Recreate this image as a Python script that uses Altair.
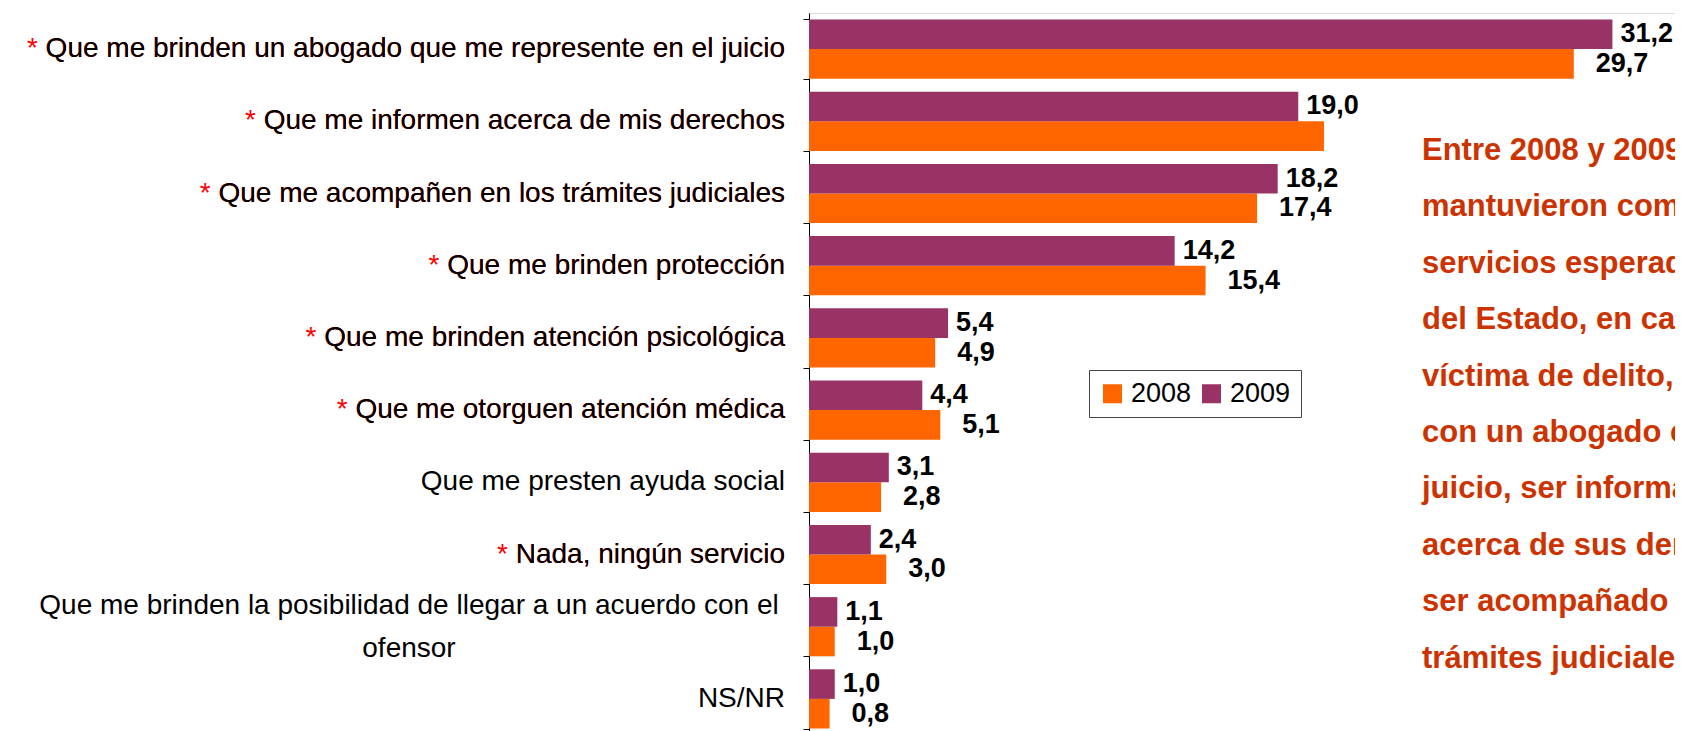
import altair as alt
import pandas as pd

categories = [
    "Que me brinden un abogado que me represente en el juicio",
    "Que me informen acerca de mis derechos",
    "Que me acompañen en los trámites judiciales",
    "Que me brinden protección",
    "Que me brinden atención psicológica",
    "Que me otorguen atención médica",
    "Que me presten ayuda social",
    "Nada, ningún servicio",
    "Que me brinden la posibilidad de llegar a un acuerdo con el ofensor",
    "NS/NR",
]
category_lines = [
    ["Que me brinden un abogado que me represente en el juicio"],
    ["Que me informen acerca de mis derechos"],
    ["Que me acompañen en los trámites judiciales"],
    ["Que me brinden protección"],
    ["Que me brinden atención psicológica"],
    ["Que me otorguen atención médica"],
    ["Que me presten ayuda social"],
    ["Nada, ningún servicio"],
    ["Que me brinden la posibilidad de llegar a un acuerdo con el", "ofensor"],
    ["NS/NR"],
]
starred = [True, True, True, True, True, True, False, True, False, False]
v2008 = [29.7, 20.0, 17.4, 15.4, 4.9, 5.1, 2.8, 3.0, 1.0, 0.8]
v2009 = [31.2, 19.0, 18.2, 14.2, 5.4, 4.4, 3.1, 2.4, 1.1, 1.0]
years = ["2008", "2009"]
hidden_labels = [("Que me informen acerca de mis derechos", "2008")]

box_lines = [
    "Entre 2008 y 2009 se",
    "mantuvieron como los",
    "servicios esperados",
    "del Estado, en caso de ser",
    "víctima de delito, el contar",
    "con un abogado en el",
    "juicio, ser informado",
    "acerca de sus derechos y",
    "ser acompañado en los",
    "trámites judiciales.",
]

rows = []
for i, c in enumerate(categories):
    for y, vals in (("2008", v2008), ("2009", v2009)):
        rows.append({
            "category": c,
            "year": y,
            "value": vals[i],
            "label": f"{vals[i]:.1f}".replace(".", ","),
            "show": (c, y) not in hidden_labels,
        })
df = pd.DataFrame(rows)

cat_df = pd.DataFrame({
    "category": categories,
    "lines": category_lines,
    "star": starred,
    "multi": [len(l) > 1 for l in category_lines],
    "starred_text": ["*  " + c for c in categories],
})

FONT = "Liberation Sans"
W, H = 866, 722
LABEL_SIZE = 28

yscale = alt.Scale(domain=categories, paddingInner=0.18, paddingOuter=0.09)
yenc = alt.Y("category:N", sort=categories, scale=yscale,
             axis=alt.Axis(labels=False, title=None, domainColor="#000",
                           tickColor="#000", tickSize=6, tickBand="extent",
                           grid=False, domainWidth=1, tickWidth=1))
xenc = alt.X("value:Q", scale=alt.Scale(domain=[0, 33.63], nice=False, zero=True), axis=None)
yoff = alt.YOffset("year:N", sort=["2009", "2008"])

bars = alt.Chart(df).mark_bar().encode(
    x=xenc,
    y=yenc,
    yOffset=yoff,
    color=alt.Color("year:N",
                    scale=alt.Scale(domain=years, range=["#FF6600", "#993366"]),
                    legend=alt.Legend(title=None, orient="none", legendX=280, legendY=357,
                                      direction="horizontal", symbolType="square",
                                      symbolSize=361, symbolStrokeWidth=0,
                                      symbolOpacity=1,
                                      labelFontSize=27, labelFont=FONT, labelColor="black",
                                      strokeColor="#444", fillColor="white",
                                      padding=10, columnPadding=6, labelOffset=5)),
)

lab09 = alt.Chart(df).transform_filter("datum.year == '2009'").mark_text(
    align="left", baseline="middle", dx=8, fontSize=27, fontWeight="bold",
    font=FONT, color="black"
).encode(x=xenc, y=yenc, yOffset=yoff, text="label:N")

lab08 = alt.Chart(df).transform_filter("datum.year == '2008' && datum.show").mark_text(
    align="left", baseline="middle", dx=22, fontSize=27, fontWeight="bold",
    font=FONT, color="black"
).encode(x=xenc, y=yenc, yOffset=yoff, text="label:N")

stars = alt.Chart(cat_df).transform_filter("datum.star").mark_text(
    align="right", baseline="middle", fontSize=LABEL_SIZE, font=FONT, color="#FF0000"
).encode(x=alt.value(-24), y=yenc, text="starred_text:N")

cat_single = alt.Chart(cat_df).transform_filter("!datum.multi").mark_text(
    align="right", baseline="middle", fontSize=LABEL_SIZE, font=FONT, color="black"
).encode(x=alt.value(-24), y=yenc, text="category:N")

cat_multi = alt.Chart(cat_df).transform_filter("datum.multi").mark_text(
    align="center", baseline="middle", fontSize=LABEL_SIZE, font=FONT, color="black",
    lineHeight=43, dy=-21
).encode(x=alt.value(-400), y=yenc, text="lines")

note = alt.Chart(pd.DataFrame({"k": [0]})).mark_text(
    text=box_lines, align="left", baseline="middle", fontSize=31,
    fontWeight="bold", font=FONT, color="#CC3300", lineHeight=56.4
).encode(x=alt.value(613), y=alt.value(138))

chart = alt.layer(bars, lab09, lab08, stars, cat_single, cat_multi, note).properties(
    width=W, height=H,
    autosize=alt.AutoSizeParams(type="none"),
    padding={"left": 801, "top": 5, "right": 0, "bottom": 0},
).configure_view(stroke=None).configure(background="white")

chart.save("out.html", embed_options={"renderer": "svg", "actions": False})
